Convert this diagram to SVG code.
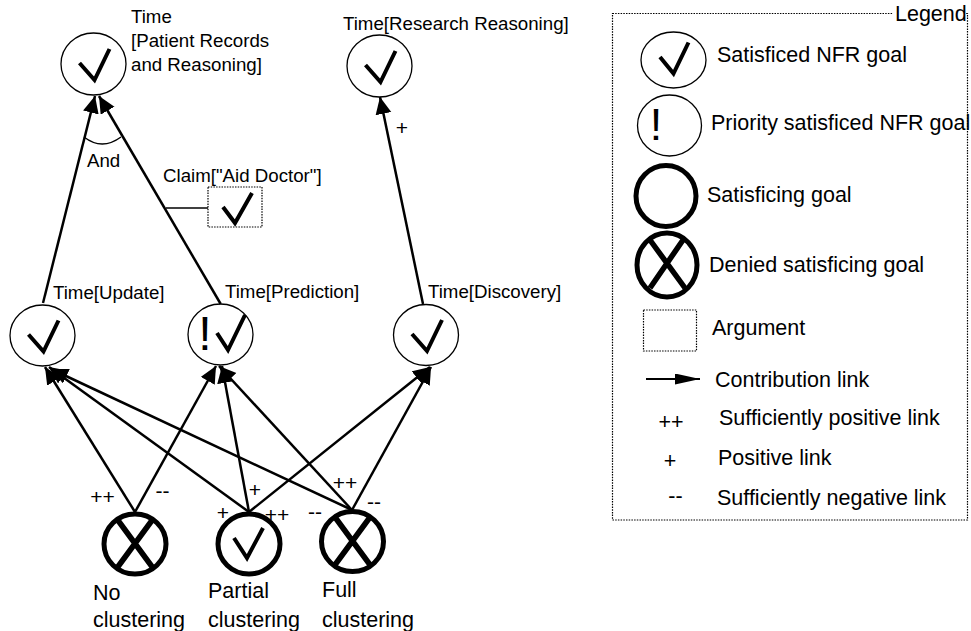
<svg xmlns="http://www.w3.org/2000/svg" width="971" height="631" viewBox="0 0 971 631">
<style>
.thin{fill:none;stroke:#000;stroke-width:1.3}
.thick{fill:none;stroke:#000;stroke-width:5}
.chk{fill:none;stroke:#000;stroke-width:4;stroke-linejoin:miter}
.x{fill:none;stroke:#000;stroke-width:5.5}
.t{font-family:"Liberation Sans",Arial,sans-serif;font-size:18.7px;fill:#000}
.s{font-family:"Liberation Sans",Arial,sans-serif;font-size:21px;fill:#000}
.b{font-family:"Liberation Sans",Arial,sans-serif;font-size:21.5px;fill:#000}
.link{fill:none;stroke:#000;stroke-width:2.5;marker-end:url(#ah)}
.dot{fill:none;stroke:#000;stroke-width:1.2;stroke-dasharray:1.5 1.2}
</style>
<defs>
<marker id="ah" markerUnits="userSpaceOnUse" markerWidth="18" markerHeight="17" refX="17" refY="8" orient="auto">
<path d="M0,0 L17,8 L0,16 z" fill="#000"/>
</marker>
<marker id="ahl" markerUnits="userSpaceOnUse" markerWidth="26" markerHeight="12" refX="25" refY="5.5" orient="auto">
<path d="M0,0 L25,5.5 L0,11 z" fill="#000"/>
</marker>
<path id="check" d="M-14,-1 L1,16 L16,-15"/>
</defs>
<rect width="971" height="631" fill="#fff"/>

<g id="connectors">
<path class="link" d="M43,303 L95,96"/>
<path class="link" d="M220.7,304 L99,96"/>
<path class="link" d="M423,304 L380,97"/>
<path class="thin" d="M166,208 L208,208"/>
<path class="thin" d="M84,137 Q102,151 121,137"/>
<path class="link" d="M135,512 L45,367"/>
<path class="link" d="M135,512 L216,366"/>
<path class="link" d="M249,512 L49,367"/>
<path class="link" d="M249,512 L222,366"/>
<path class="link" d="M249,512 L430,367"/>
<path class="link" d="M352,510 L51,369"/>
<path class="link" d="M352,510 L219,366"/>
<path class="link" d="M352,510 L431,367"/>
<text class="t" x="87" y="167">And</text>
<text class="s" x="102.5" y="504" text-anchor="middle">++</text>
<text class="s" x="162.5" y="498" text-anchor="middle">--</text>
<text class="s" x="255" y="497" text-anchor="middle">+</text>
<text class="s" x="223" y="520" text-anchor="middle">+</text>
<text class="s" x="277" y="522" text-anchor="middle">++</text>
<text class="s" x="315" y="519" text-anchor="middle">--</text>
<text class="s" x="345" y="490" text-anchor="middle">++</text>
<text class="s" x="374" y="509" text-anchor="middle">--</text>
<text class="s" x="402" y="135" text-anchor="middle">+</text>
</g>

<g id="n-patient">
<ellipse class="thin" cx="93.5" cy="64" rx="32.5" ry="31"/>
<use href="#check" class="chk" x="93.5" y="64"/>
<text class="t" x="131" y="23">Time</text>
<text class="t" x="131" y="47">[Patient Records</text>
<text class="t" x="131" y="71">and Reasoning]</text>
</g>

<g id="n-research">
<ellipse class="thin" cx="379.5" cy="66" rx="32.5" ry="31"/>
<use href="#check" class="chk" x="379.5" y="66"/>
<text class="t" x="343" y="30">Time[Research Reasoning]</text>
</g>

<g id="claim">
<text class="t" x="163" y="182">Claim["Aid Doctor"]</text>
<rect class="dot" x="208" y="187" width="54" height="40"/>
<path class="chk" d="M223,207 L235,223 L252,193"/>
</g>

<g id="n-update">
<ellipse class="thin" cx="42.5" cy="335.5" rx="32.5" ry="30.5"/>
<use href="#check" class="chk" x="42.5" y="335.5"/>
<text class="t" x="53" y="299">Time[Update]</text>
</g>

<g id="n-prediction">
<ellipse class="thin" cx="220.5" cy="334.5" rx="32.5" ry="30.5"/>
<text x="205" y="350" text-anchor="middle" font-family="Liberation Sans, Arial, sans-serif" font-size="48">!</text>
<path class="chk" d="M217,333 L228,350 L245,315"/>
<text class="t" x="225" y="298">Time[Prediction]</text>
</g>

<g id="n-discovery">
<ellipse class="thin" cx="426" cy="335" rx="32.5" ry="30.5"/>
<use href="#check" class="chk" x="426" y="335"/>
<text class="t" x="428" y="298">Time[Discovery]</text>
</g>

<g id="n-no">
<ellipse class="thick" cx="135" cy="544" rx="31" ry="30"/>
<path class="x" d="M117,519 L153,568 M153,519 L117,568"/>
<text class="b" x="93" y="600">No</text>
<text class="b" x="93" y="627">clustering</text>
</g>

<g id="n-partial">
<ellipse class="thick" cx="249" cy="544" rx="31" ry="30"/>
<path class="chk" d="M234,538 L247,558 L263,528"/>
<text class="b" x="208" y="598">Partial</text>
<text class="b" x="208" y="627">clustering</text>
</g>

<g id="n-full">
<ellipse class="thick" cx="352.5" cy="541.5" rx="31" ry="30"/>
<path class="x" d="M334.5,516.5 L370.5,565.5 M370.5,516.5 L334.5,565.5"/>
<text class="b" x="322" y="597">Full</text>
<text class="b" x="322" y="627">clustering</text>
</g>

<g id="legend">
<rect class="dot" x="612.5" y="13.5" width="355" height="506.5"/>
<rect x="893" y="4" width="73" height="19" fill="#fff"/>
<text class="b" x="895" y="21">Legend</text>

<ellipse class="thin" cx="673.5" cy="60" rx="32.5" ry="28"/>
<path class="chk" d="M660,57 L673.5,73.5 L688.5,42.5"/>
<text class="b" x="717" y="62">Satisficed NFR goal</text>

<ellipse class="thin" cx="669.5" cy="125.5" rx="32" ry="30.5"/>
<text x="656" y="140" text-anchor="middle" font-family="Liberation Sans, Arial, sans-serif" font-size="45">!</text>
<text class="b" x="711" y="130">Priority satisficed NFR goal</text>

<ellipse class="thick" cx="666" cy="196" rx="30" ry="30.5"/>
<text class="b" x="707" y="202">Satisficing goal</text>

<ellipse class="thick" cx="667" cy="265" rx="30" ry="32"/>
<path class="x" d="M650,240 L685,288 M683,240 L650,288"/>
<text class="b" x="709" y="272">Denied satisficing goal</text>

<rect class="dot" x="643.5" y="310" width="53" height="41"/>
<text class="b" x="712" y="335">Argument</text>

<path d="M646,379 L700,379" stroke="#000" stroke-width="2" marker-end="url(#ahl)"/>
<text class="b" x="715" y="387">Contribution link</text>

<text class="b" x="671" y="429" text-anchor="middle">++</text>
<text class="b" x="719" y="425">Sufficiently positive link</text>

<text class="b" x="670" y="468" text-anchor="middle">+</text>
<text class="b" x="718" y="465">Positive link</text>

<text class="b" x="675.5" y="503" text-anchor="middle">--</text>
<text class="b" x="717" y="505">Sufficiently negative link</text>
</g>
</svg>
